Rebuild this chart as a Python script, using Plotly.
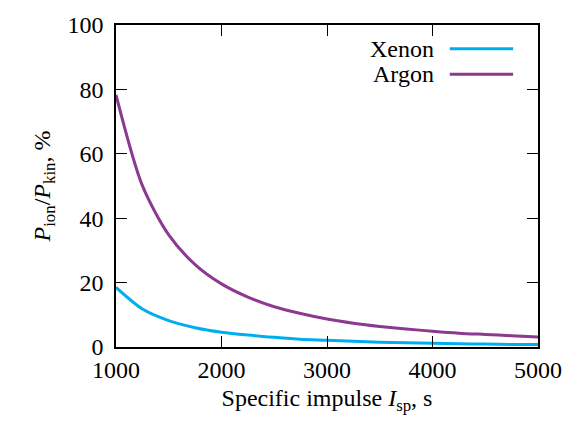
import plotly.graph_objects as go

isp = [1000, 1250, 1500, 1750, 2000, 2250, 2500, 2750, 3000, 3250, 3500, 3750, 4000, 4250, 4500, 4750, 5000]
argon = [78.3, 50.1, 34.8, 25.6, 19.6, 15.5, 12.5, 10.4, 8.7, 7.4, 6.4, 5.6, 4.9, 4.3, 3.9, 3.5, 3.1]
xenon = [18.5, 11.8, 8.2, 6.0, 4.6, 3.7, 3.0, 2.4, 2.1, 1.75, 1.5, 1.3, 1.15, 1.0, 0.9, 0.8, 0.74]
series_names = ["Xenon", "Argon"]
colors = ["#00AEEF", "#8B3A8F"]

FONT = "Liberation Serif"
TXT = "#000000"

fig = go.Figure()
for name, ys, c in zip(series_names, [xenon, argon], colors):
    fig.add_trace(go.Scatter(x=isp, y=ys, mode="lines", name=name,
                             line=dict(color=c, width=3, shape="spline", smoothing=0.8),
                             showlegend=False))

# manual legend (text to the left of the sample line)
leg_y = [0.926, 0.847]
for name, c, yy in zip(series_names, colors, leg_y):
    fig.add_annotation(xref="paper", yref="paper", x=0.758, y=yy, text=name,
                       showarrow=False, xanchor="right", yanchor="middle",
                       font=dict(family=FONT, size=24, color=TXT))
    fig.add_shape(type="line", xref="paper", yref="paper",
                  x0=0.791, x1=0.941, y0=yy, y1=yy,
                  line=dict(color=c, width=3))

axis_common = dict(showline=True, mirror="allticks", linecolor="black", linewidth=1.5,
                   ticks="inside", ticklen=11, tickcolor="black", tickwidth=1,
                   showgrid=False, zeroline=False)

fig.update_xaxes(range=[1000, 5000], tickvals=[1000, 2000, 3000, 4000, 5000],
                 tickfont=dict(family=FONT, size=24, color=TXT),
                 title=dict(text="Specific impulse <i>I</i><sub>sp</sub>, s",
                            font=dict(family=FONT, size=24, color=TXT), standoff=8),
                 **axis_common)
fig.update_yaxes(range=[0, 100], tickvals=[0, 20, 40, 60, 80, 100],
                 tickfont=dict(family=FONT, size=24, color=TXT),
                 ticklabelstandoff=6,
                 title=dict(text="<i>P</i><sub>ion</sub>/<i>P</i><sub>kin</sub>, %",
                            font=dict(family=FONT, size=24, color=TXT), standoff=10),
                 **axis_common)

fig.update_layout(width=574, height=424,
                  margin=dict(l=116, r=32, t=17, b=77),
                  plot_bgcolor="white", paper_bgcolor="white")

fig.write_html("out.html")
